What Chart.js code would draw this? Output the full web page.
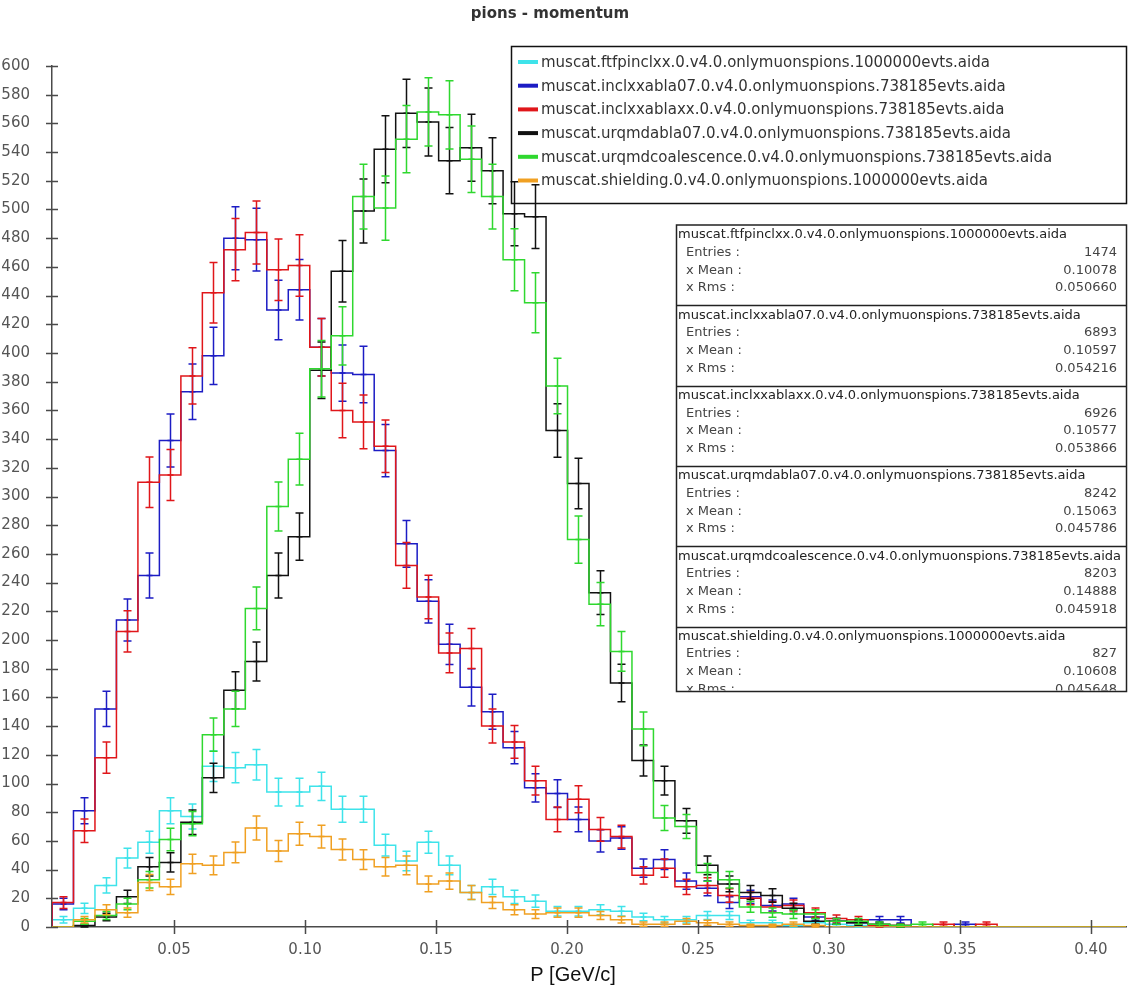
<!DOCTYPE html>
<html>
<head>
<meta charset="utf-8">
<title>pions - momentum</title>
<script src="https://cdn.jsdelivr.net/npm/chart.js@4.4.1/dist/chart.umd.min.js"></script>
<style>
  html, body { margin: 0; padding: 0; background: #fff; }
  #wrap { position: relative; width: 1128px; height: 992px; }
</style>
</head>
<body>
<div id="wrap"><canvas id="momentumChart" width="1128" height="992"></canvas></div>
<script>
// histogram binning (P in GeV/c)
var binStart = 0.0034;
var binWidth = 0.0082;

var xTickValues = [0.05, 0.10, 0.15, 0.20, 0.25, 0.30, 0.35, 0.40];
var yMin = 0, yMax = 600, yStep = 20;

var seriesNames = [
  'muscat.ftfpinclxx.0.v4.0.onlymuonspions.1000000evts.aida',
  'muscat.inclxxabla07.0.v4.0.onlymuonspions.738185evts.aida',
  'muscat.inclxxablaxx.0.v4.0.onlymuonspions.738185evts.aida',
  'muscat.urqmdabla07.0.v4.0.onlymuonspions.738185evts.aida',
  'muscat.urqmdcoalescence.0.v4.0.onlymuonspions.738185evts.aida',
  'muscat.shielding.0.v4.0.onlymuonspions.1000000evts.aida'
];
var seriesColors = ['#3ee3ea', '#1c1cc4', '#e0161a', '#111111', '#2fd82f', '#f0a022'];

// counts per bin, one array per file
var ftfpCounts = [5, 13, 29, 48, 59, 81, 77, 112, 111, 113, 94, 94, 98, 82, 82, 57, 46, 59, 43, 24,
  28, 21, 18, 11, 11, 12, 11, 7, 5, 5, 8, 8, 3, 3, 1, 3, 2, 1, 0, 0,
  0, 0, 0, 0, 0, 0, 0, 0, 0, 0];
var inclAbla07Counts = [16, 81, 152, 214, 245, 339, 373, 398, 480, 479, 430, 444, 404, 386, 385, 332, 267, 227, 197, 167,
  150, 125, 97, 93, 75, 60, 62, 41, 47, 32, 27, 17, 21, 15, 16, 7, 4, 3, 5, 5,
  0, 0, 2, 0, 0, 0, 0, 0, 0, 0];
var inclAblaxxCounts = [17, 67, 118, 206, 310, 315, 384, 442, 472, 484, 458, 461, 404, 360, 352, 335, 252, 230, 191, 194,
  140, 129, 102, 75, 89, 68, 63, 36, 41, 28, 29, 22, 20, 14, 15, 10, 6, 5, 1, 1,
  0, 2, 0, 2, 0, 0, 0, 0, 0, 0];
var urqmdAbla07Counts = [0, 1, 7, 21, 42, 45, 73, 104, 165, 185, 245, 272, 388, 457, 499, 542, 567, 561, 534, 543,
  527, 497, 495, 346, 309, 233, 170, 116, 102, 74, 43, 30, 24, 22, 13, 4, 4, 3, 2, 1,
  0, 0, 0, 0, 0, 0, 0, 0, 0, 0];
var urqmdCoalCounts = [0, 4, 8, 16, 33, 61, 72, 134, 152, 222, 293, 326, 389, 412, 509, 501, 549, 568, 566, 535,
  509, 465, 435, 377, 270, 225, 192, 138, 76, 70, 38, 33, 14, 10, 9, 9, 4, 4, 2, 1,
  2, 0, 0, 0, 0, 0, 0, 0, 0, 0];
var shieldingCounts = [0, 5, 12, 10, 31, 28, 44, 43, 52, 69, 53, 65, 63, 54, 47, 42, 43, 30, 32, 24,
  17, 12, 9, 10, 10, 8, 5, 2, 2, 4, 3, 2, 1, 1, 2, 1, 0, 0, 0, 0,
  0, 0, 0, 0, 0, 0, 0, 0, 0, 0];

var statEntries = ['1474', '6893', '6926', '8242', '8203', '827'];
var statMeans = ['0.10078', '0.10597', '0.10577', '0.15063', '0.14888', '0.10608'];
var statRms = ['0.050660', '0.054216', '0.053866', '0.045786', '0.045918', '0.045648'];

var allCounts = [ftfpCounts, inclAbla07Counts, inclAblaxxCounts, urqmdAbla07Counts, urqmdCoalCounts, shieldingCounts];

function stepPoints(counts) {
  var pts = [{x: binStart, y: 0}];
  counts.forEach(function (c, k) {
    pts.push({x: binStart + k * binWidth, y: c});
  });
  pts.push({x: binStart + counts.length * binWidth, y: 0});
  return pts;
}

var datasets = allCounts.map(function (counts, i) {
  return {
    label: seriesNames[i],
    data: stepPoints(counts),
    borderColor: seriesColors[i],
    backgroundColor: seriesColors[i],
    borderWidth: 1.5,
    stepped: true,
    pointRadius: 0,
    fill: false,
    order: allCounts.length - i
  };
});

var FONT = '"DejaVu Sans", "Noto Sans", sans-serif';

// sqrt(N) error bars, drawn right after each histogram
var errorBarPlugin = {
  id: 'errorBars',
  afterDatasetDraw: function (chart, args) {
    var i = args.index;
    var counts = allCounts[i];
    var ctx = chart.ctx, xs = chart.scales.x, ys = chart.scales.y;
    ctx.save();
    ctx.strokeStyle = seriesColors[i];
    ctx.lineWidth = 1.5;
    ctx.beginPath();
    counts.forEach(function (c, k) {
      if (c <= 0) return;
      var err = Math.sqrt(c);
      var px = Math.round(xs.getPixelForValue(binStart + (k + 0.5) * binWidth)) + 0.5;
      var yLo = ys.getPixelForValue(Math.max(c - err, 0));
      var yHi = ys.getPixelForValue(c + err);
      var yMid = ys.getPixelForValue(c);
      ctx.moveTo(px, yLo); ctx.lineTo(px, yHi);
      ctx.moveTo(px - 4, yLo); ctx.lineTo(px + 4, yLo);
      ctx.moveTo(px - 4, yHi); ctx.lineTo(px + 4, yHi);
      ctx.moveTo(px - 3, yMid); ctx.lineTo(px + 3, yMid);
    });
    ctx.stroke();
    ctx.restore();
  }
};

// crossing tick marks, title, axis label, legend and stats boxes
var decorPlugin = {
  id: 'decor',
  afterDraw: function (chart) {
    var ctx = chart.ctx, xs = chart.scales.x, ys = chart.scales.y;
    var area = chart.chartArea;
    ctx.save();

    ctx.strokeStyle = '#4a4a4a';
    ctx.lineWidth = 1.5;
    ctx.beginPath();
    ys.ticks.forEach(function (t) {
      var py = Math.round(ys.getPixelForValue(t.value)) + 0.5;
      ctx.moveTo(area.left - 6, py); ctx.lineTo(area.left + 6, py);
    });
    xs.ticks.forEach(function (t) {
      var px = Math.round(xs.getPixelForValue(t.value)) + 0.5;
      ctx.moveTo(px, area.bottom - 7); ctx.lineTo(px, area.bottom + 7);
    });
    ctx.stroke();

    ctx.fillStyle = '#333';
    ctx.font = 'bold 15px ' + FONT;
    ctx.textAlign = 'center';
    ctx.textBaseline = 'middle';
    ctx.fillText('pions - momentum', 550, 14);

    ctx.fillStyle = '#111';
    ctx.font = '20px "Liberation Sans", Arial, sans-serif';
    ctx.fillText('P [GeV/c]', 573, 975);

    // legend
    ctx.strokeStyle = '#111';
    ctx.lineWidth = 1.5;
    ctx.strokeRect(511.5, 46.5, 615, 157);
    ctx.font = '15px ' + FONT;
    ctx.textAlign = 'left';
    seriesNames.forEach(function (name, i) {
      var ly = 62 + i * 23.7;
      ctx.strokeStyle = seriesColors[i];
      ctx.lineWidth = 4;
      ctx.beginPath();
      ctx.moveTo(518, ly); ctx.lineTo(538, ly);
      ctx.stroke();
      ctx.fillStyle = '#333';
      ctx.fillText(name, 541, ly + 1);
    });

    // statistics boxes (the last one is cut short)
    var boxLeft = 676, boxRight = 1126, boxTop = 225, boxH = 80.3, boxBottom = 691.5;
    ctx.font = '13px ' + FONT;
    seriesNames.forEach(function (name, i) {
      var top = boxTop + i * boxH;
      var bottom = Math.min(top + boxH, boxBottom);
      ctx.save();
      ctx.beginPath();
      ctx.rect(boxLeft, top, boxRight - boxLeft, bottom - top - 1);
      ctx.clip();
      ctx.fillStyle = '#222';
      ctx.textAlign = 'left';
      ctx.fillText(name, boxLeft + 2, top + 10);
      ctx.fillStyle = '#444';
      ctx.fillText('Entries :', boxLeft + 10, top + 27.6);
      ctx.fillText('x Mean :', boxLeft + 10, top + 45.3);
      ctx.fillText('x Rms :', boxLeft + 10, top + 63);
      ctx.textAlign = 'right';
      ctx.fillText(statEntries[i], 1117, top + 27.6);
      ctx.fillText(statMeans[i], 1117, top + 45.3);
      ctx.fillText(statRms[i], 1117, top + 63);
      ctx.restore();
    });
    ctx.strokeStyle = '#222';
    ctx.lineWidth = 1.5;
    ctx.strokeRect(boxLeft + 0.5, boxTop, boxRight - boxLeft, boxBottom - boxTop);
    ctx.beginPath();
    for (var b = 1; b < 6; b++) {
      var sy = Math.round(boxTop + b * boxH) + 0.5;
      ctx.moveTo(boxLeft, sy); ctx.lineTo(boxRight, sy);
    }
    ctx.stroke();

    ctx.restore();
  }
};

var ctx = document.getElementById('momentumChart');
var momentumChart = new Chart(ctx, {
  type: 'line',
  data: {datasets: datasets},
  options: {
    responsive: false,
    animation: false,
    events: [],
    layout: {padding: {top: 66, right: 2, left: 0, bottom: 0}},
    plugins: {
      legend: {display: false},
      title: {display: false},
      tooltip: {enabled: false}
    },
    scales: {
      x: {
        type: 'linear',
        min: binStart,
        max: binStart + 50 * binWidth,
        afterBuildTicks: function (scale) {
          scale.ticks = xTickValues.map(function (v) { return {value: v}; });
        },
        afterFit: function (scale) { scale.height = 65; },
        grid: {display: false},
        border: {display: true, color: '#4a4a4a', width: 1.5},
        ticks: {
          autoSkip: false,
          maxRotation: 0,
          padding: 6,
          color: '#555',
          font: {family: FONT, size: 15},
          callback: function (v) { return Number(v).toFixed(2); }
        }
      },
      y: {
        type: 'linear',
        min: yMin,
        max: yMax,
        afterFit: function (scale) { scale.width = 52; },
        grid: {display: false},
        border: {display: true, color: '#4a4a4a', width: 1.5},
        ticks: {
          stepSize: yStep,
          padding: 14,
          color: '#555',
          font: {family: FONT, size: 15}
        }
      }
    }
  },
  plugins: [errorBarPlugin, decorPlugin]
});
</script>
</body>
</html>
